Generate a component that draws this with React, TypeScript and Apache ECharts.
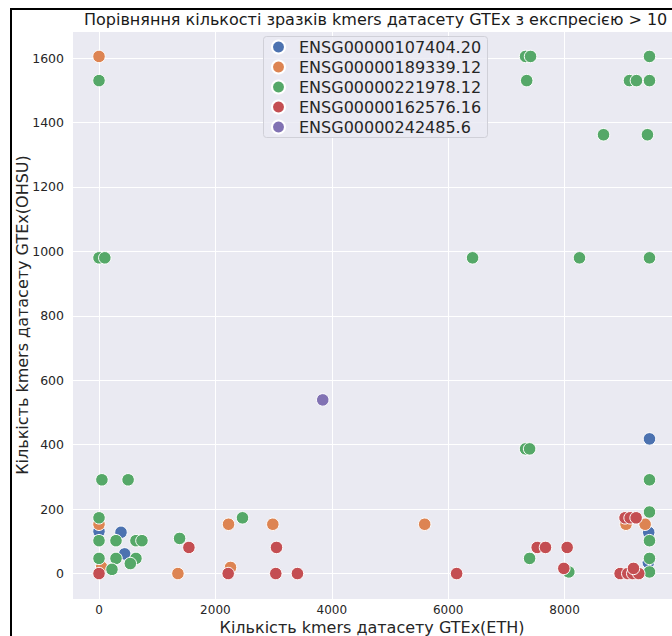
import React, { useEffect, useRef } from "react";
import * as echarts from "echarts";

const titleText = "Порівняння кількості зразків kmers датасету GTEx з експресією > 10";
const xName = "Кількість kmers датасету GTEx(ETH)";
const yName = "Кількість kmers датасету GTEx(OHSU)";

const seriesNames = [
  "ENSG00000107404.20",
  "ENSG00000189339.12",
  "ENSG00000221978.12",
  "ENSG00000162576.16",
  "ENSG00000242485.6",
];
const seriesColors = ["#4C72B0", "#DD8452", "#55A868", "#C44E52", "#8172B3"];

const blueData = [
  [0, 131], [378, 128], [441, 61], [9460, 418], [9447, 128], [9440, 34],
];
const orangeData = [
  [0, 1605], [0, 153], [46, 20], [1356, 0], [2226, 153], [2260, 19], [2987, 153],
  [5597, 153], [9057, 153], [9385, 153],
];
const greenData = [
  [0, 1530], [0, 980], [100, 980], [7330, 1605], [7416, 1605], [7350, 1530],
  [9460, 1605], [9116, 1530], [9236, 1530], [9460, 1530], [8670, 1362], [9425, 1362],
  [6420, 980], [8257, 980], [9460, 980], [7330, 387], [7400, 387], [9460, 291],
  [50, 291], [500, 291], [0, 173], [0, 102], [292, 102], [635, 102], [738, 102],
  [1385, 109], [0, 47], [292, 47], [635, 47], [538, 31], [223, 13], [2466, 173],
  [7400, 47], [8074, 5], [9460, 191], [9460, 102], [9460, 47], [9460, 5],
];
const redData = [
  [0, 0], [1545, 81], [2220, 0], [3050, 81], [3038, 0], [3410, 0], [6146, 0],
  [7530, 81], [7673, 81], [8045, 81], [7988, 16], [9040, 173], [9127, 173],
  [9230, 173], [8955, 0], [9087, 0], [9173, 0], [9276, 0], [9185, 16],
];
const purpleData = [[3845, 539]];

const allData = [blueData, orangeData, greenData, redData, purpleData];

const FONT = "DejaVu Sans";

export default function App() {
  const ref = useRef<HTMLDivElement>(null);
  useEffect(() => {
    if (!ref.current) return;
    const chart = echarts.init(ref.current, null, { renderer: "svg" });
    chart.setOption({
      animation: false,
      backgroundColor: "#ffffff",
      textStyle: { fontFamily: FONT },
      title: {
        text: titleText,
        left: 84,
        top: 11,
        padding: 0,
        textStyle: { fontFamily: FONT, fontSize: 16, fontWeight: "normal", color: "#1a1a1a" },
      },
      grid: {
        left: 72,
        top: 31,
        right: 0,
        bottom: 37,
        outerBoundsMode: "none",
        containLabel: false,
        show: true,
        backgroundColor: "#EAEAF2",
        borderWidth: 0,
      },
      legend: {
        orient: "vertical",
        left: 271,
        top: 37,
        padding: 0,
        itemWidth: 31,
        itemHeight: 13,
        itemGap: 0,
        icon: "circle",
        data: seriesNames,
        textStyle: { fontFamily: FONT, fontSize: 16, color: "#262626", lineHeight: 20, height: 20 },
      },
      xAxis: {
        type: "value",
        min: -464,
        max: 9847,
        splitNumber: 5,
        name: xName,
        nameLocation: "middle",
        nameGap: 20,
        nameMoveOverlap: false,
        nameTextStyle: { fontFamily: FONT, fontSize: 16, lineHeight: 16, color: "#262626" },
        axisLine: { show: false },
        axisTick: { show: false },
        axisLabel: {
          showMinLabel: false,
          showMaxLabel: false,
          margin: 5,
          fontFamily: FONT,
          fontSize: 12,
          lineHeight: 12,
          color: "#262626",
          formatter: (v: number) => String(v),
        },
        splitLine: { show: true, lineStyle: { color: "#ffffff", width: 1 } },
      },
      yAxis: {
        type: "value",
        min: -79,
        max: 1684,
        splitNumber: 9,
        name: yName,
        nameLocation: "middle",
        nameGap: 42,
        nameMoveOverlap: false,
        nameTextStyle: { fontFamily: FONT, fontSize: 16, color: "#262626" },
        axisLine: { show: false },
        axisTick: { show: false },
        axisLabel: {
          showMinLabel: false,
          showMaxLabel: false,
          margin: 8,
          fontFamily: FONT,
          fontSize: 12.5,
          color: "#262626",
          formatter: (v: number) => String(v),
        },
        splitLine: { show: true, lineStyle: { color: "#ffffff", width: 1 } },
      },
      graphic: [
        {
          type: "rect",
          z: 100,
          shape: { x: 11, y: 9, width: 800, height: 800 },
          style: { fill: "none", stroke: "#000000", lineWidth: 2 },
        },
        {
          type: "rect",
          z: 3,
          shape: { x: 263.5, y: 36.5, width: 224, height: 101, r: 3 },
          style: { fill: "rgba(234,234,242,0.8)", stroke: "#d0d0d8", lineWidth: 1 },
        },
      ],
      series: seriesNames.map((name, i) => ({
        name,
        type: "scatter",
        data: allData[i],
        symbol: "circle",
        symbolSize: 12.5,
        itemStyle: { color: seriesColors[i], borderColor: "#ffffff", borderWidth: 1, opacity: 1 },
        emphasis: { disabled: true },
      })),
    });
    return () => chart.dispose();
  }, []);
  return (
    <div
      ref={ref}
      style={{ position: "absolute", left: 0, top: 0, width: 672, height: 636 }}
    />
  );
}
